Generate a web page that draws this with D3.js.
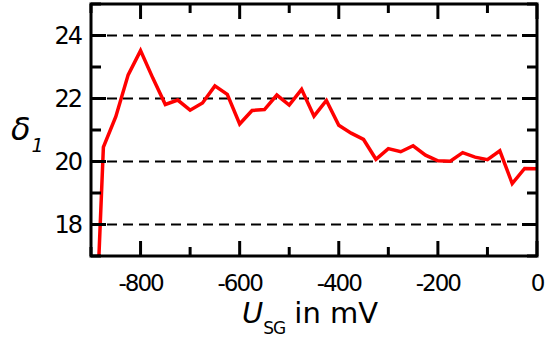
<!DOCTYPE html>
<html><head><meta charset="utf-8">
<script src="https://cdn.jsdelivr.net/npm/d3@7"></script>
<style>body{margin:0;background:#fff}svg{display:block}</style>
</head><body>
<svg id="c" width="545" height="342"></svg>
<script>
const xValues = [-890,-875,-850,-825,-800,-775,-750,-725,-700,-675,-650,-625,-600,-575,-550,-525,-500,-475,-450,-425,-400,-375,-350,-325,-300,-275,-250,-225,-200,-175,-150,-125,-100,-75,-50,-25,0];
const delta1 = [14.7,20.46,21.42,22.75,23.52,22.64,21.81,21.95,21.63,21.86,22.40,22.13,21.19,21.62,21.65,22.11,21.79,22.29,21.44,21.94,21.15,20.90,20.70,20.07,20.41,20.31,20.50,20.20,20.02,20.01,20.28,20.14,20.06,20.34,19.30,19.78,19.77];
const xTickLabels = [-800,-600,-400,-200,0];
const yTickLabels = [18,20,22,24];

const svg = d3.select('#c');
const L=91, R=537, T=4, B=256;
const x = d3.scaleLinear().domain([-900,0]).range([L,R]);
const y = d3.scaleLinear().domain([17,25]).range([B,T]);
const font = "'DejaVu Sans', Verdana, sans-serif";

// grid
svg.append('g').selectAll('line').data(yTickLabels).join('line')
  .attr('x1',L).attr('x2',R).attr('y1',d=>y(d)).attr('y2',d=>y(d))
  .attr('stroke','#000').attr('stroke-width',2).attr('stroke-dasharray','10,6');

// clip
svg.append('clipPath').attr('id','clip').append('rect').attr('x',L).attr('y',T).attr('width',R-L).attr('height',B-T);

const line = d3.line().x((d,i)=>x(xValues[i])).y(d=>y(d));
svg.append('path').datum(delta1).attr('d',line).attr('clip-path','url(#clip)')
  .attr('fill','none').attr('stroke','#ff0000').attr('stroke-width',3.5).attr('stroke-linejoin','miter');

// ticks
const xt = d3.range(-900,1,100);
const yt = d3.range(17,25.01,1);
const tg = svg.append('g').attr('stroke','#000').attr('stroke-width',3);
xt.forEach(v=>{
  const len = (v%200===0)?15:9;
  tg.append('line').attr('x1',x(v)).attr('x2',x(v)).attr('y1',B).attr('y2',B-len);
  tg.append('line').attr('x1',x(v)).attr('x2',x(v)).attr('y1',T).attr('y2',T+len);
});
yt.forEach(v=>{
  const len = (v%2===0)?15:10;
  tg.append('line').attr('y1',y(v)).attr('y2',y(v)).attr('x1',L).attr('x2',L+len);
  tg.append('line').attr('y1',y(v)).attr('y2',y(v)).attr('x1',R).attr('x2',R-len);
});

// frame
svg.append('rect').attr('x',L).attr('y',T).attr('width',R-L).attr('height',B-T)
  .attr('fill','none').attr('stroke','#000').attr('stroke-width',3);

// tick labels
svg.append('g').selectAll('text').data(xTickLabels).join('text')
  .attr('x',d=>x(d)).attr('y',291).attr('text-anchor','middle')
  .attr('font-family',font).attr('font-size',23).attr('letter-spacing',-2)
  .text(d=>d);
svg.append('g').selectAll('text').data(yTickLabels).join('text')
  .attr('x',81).attr('y',d=>y(d)+8.5).attr('text-anchor','end')
  .attr('font-family',font).attr('font-size',24).attr('letter-spacing',-2)
  .text(d=>d);

// axis titles
const xt2 = svg.append('text').attr('x',310).attr('y',323).attr('text-anchor','middle')
  .attr('font-family',font).attr('font-size',29);
xt2.append('tspan').attr('font-style','italic').text('U');
xt2.append('tspan').attr('font-size',17).attr('dy',11).attr('letter-spacing',-1).text('SG');
xt2.append('tspan').attr('dy',-11).text(' in mV');

const yt2 = svg.append('text').attr('x',11).attr('y',140)
  .attr('font-family',font).attr('font-size',32).attr('font-style','italic');
yt2.append('tspan').text('δ');
yt2.append('tspan').attr('font-size',19).attr('dy',12).attr('dx',1).text('1');
</script>
</body></html>
